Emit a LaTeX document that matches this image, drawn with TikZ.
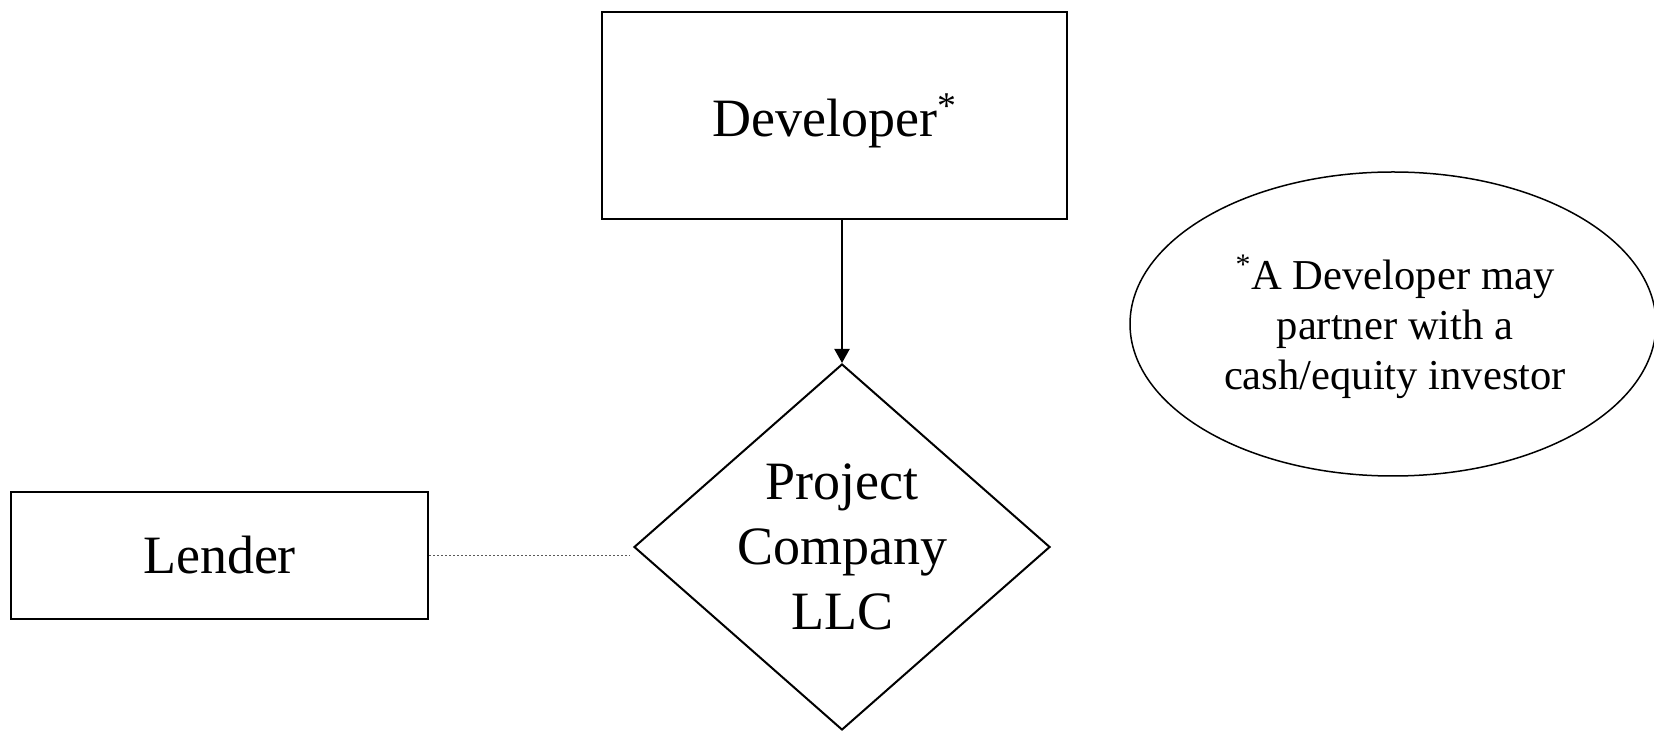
\documentclass[tikz,border=0pt]{standalone}
\usepackage{fontspec}
\setmainfont{Liberation Serif}
\usetikzlibrary{shapes,arrows.meta,positioning,calc}
\tikzstyle{box} = [draw, line width=1pt, rectangle, inner sep=0pt]
\tikzstyle{line} = [draw, line width=1pt, -{Triangle[length=7pt,width=7.5pt]}]
\tikzstyle{link} = [draw, gray!70!black, line width=0.7pt, dash pattern=on 1pt off 1pt, shorten >=1.5pt]

\begin{document}
\begin{tikzpicture}[x=0.5pt, y=-0.5pt]
    \useasboundingbox (0,0) rectangle (1654,731);
    \node [box, minimum width=232.5pt, minimum height=103.5pt, text depth=0pt, font=\fontsize{27}{31}\selectfont] (dev) at (834.5,115.5) {Developer\textsuperscript{*}};
    \node [box, minimum width=208.5pt, minimum height=63.5pt, font=\fontsize{27}{31}\selectfont] (lender) at (219.5,555.5) {Lender};
    \node [draw, line width=1pt, diamond, aspect=1.1, inner xsep=-5pt, inner ysep=-5pt, minimum width=208pt, minimum height=183pt, align=center, font=\fontsize{27}{32.5}\selectfont] (proj) at (842,547) {Project\\Company\\LLC};
    \node [draw, line width=0.75pt, ellipse, minimum width=263pt, minimum height=152pt] (note) at (1393,324) {};
    \node [align=center, font=\fontsize{21.3}{25}\selectfont] (notetext) at (1395,327) {\textsuperscript{*}A Developer may\\partner with a\\cash/equity investor};

    \path [line] (dev.south -| proj.north) -- (proj.north);
    \path [link] (lender.east) -- (lender.east -| proj.west);
\end{tikzpicture}
\end{document}
